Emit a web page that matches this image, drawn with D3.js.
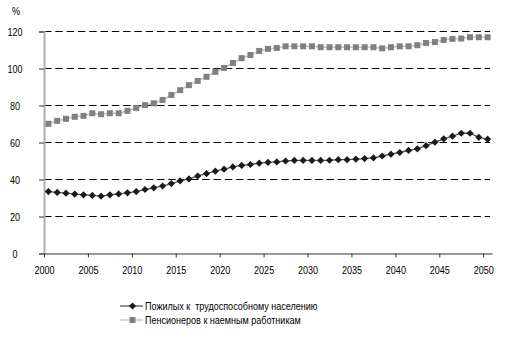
<!DOCTYPE html>
<html>
<head>
<meta charset="utf-8">
<script src="https://cdn.jsdelivr.net/npm/d3@7"></script>
<style>
  html, body { margin: 0; padding: 0; background: #fff; }
  svg { display: block; }
  text { font-family: "Liberation Sans Narrow", "Arial Narrow", "Liberation Sans", Arial, sans-serif; font-size: 11px; fill: #000; }
</style>
</head>
<body>
<div id="chart"></div>
<script>
// Years on the category axis
const years = d3.range(2000, 2051);

// Elderly population relative to working-age population, %
const elderlyToWorkingAge = [
  33.5, 33.0, 32.6, 32.1, 31.7, 31.4, 31.0, 31.7, 32.2, 32.8,
  33.5, 34.6, 35.5, 36.5, 37.8, 39.3, 40.3, 41.9, 43.2, 44.5,
  45.6, 46.8, 47.6, 48.1, 48.8, 49.3, 49.5, 50.0, 50.3, 50.3,
  50.3, 50.3, 50.4, 50.7, 50.7, 51.0, 51.3, 51.7, 52.7, 53.7,
  54.6, 55.7, 56.6, 58.3, 60.2, 62.0, 63.4, 65.0, 65.0, 62.8,
  61.8
];

// Pensioners relative to hired employees, %
const pensionersToEmployees = [
  70.1, 71.7, 72.8, 73.9, 74.4, 75.8, 75.3, 75.8, 75.8, 77.1,
  78.7, 80.2, 81.2, 83.0, 85.7, 88.3, 91.0, 93.3, 95.5, 98.2,
  100.3, 103.0, 105.6, 107.3, 109.5, 110.6, 111.1, 112.0, 112.0, 112.0,
  112.0, 111.5, 111.5, 111.5, 111.5, 111.5, 111.5, 111.5, 110.9, 111.5,
  112.0, 112.0, 112.6, 113.8, 114.3, 115.4, 116.0, 116.2, 116.9, 116.9,
  116.9
];

const yTicks = [0, 20, 40, 60, 80, 100, 120];
const xTickYears = [2000, 2005, 2010, 2015, 2020, 2025, 2030, 2035, 2040, 2045, 2050];
const seriesNames = ["Пожилых к  трудоспособному населению", "Пенсионеров к наемным работникам"];

const W = 505, H = 339;
const svg = d3.select("#chart").append("svg").attr("width", W).attr("height", H);

const x = d3.scaleBand().domain(years).range([44, 492]).padding(0);
const y = d3.scaleLinear().domain([0, 120]).range([253.5, 31.5]);
const cx = yr => x(yr) + x.bandwidth() / 2;

// Squeeze text horizontally to a narrow face when no condensed font is available
function condense(sel, k = 0.82) {
  sel.each(function () {
    const w = this.getComputedTextLength();
    if (w > 0) {
      d3.select(this).attr("textLength", (w * k).toFixed(2)).attr("lengthAdjust", "spacingAndGlyphs");
    }
  });
}

// Dashed horizontal gridlines
svg.append("g").selectAll("line")
  .data(yTicks.filter(v => v > 0))
  .join("line")
  .attr("x1", 44).attr("x2", 490)
  .attr("y1", d => y(d)).attr("y2", d => y(d))
  .attr("stroke", "#000").attr("stroke-width", 1)
  .attr("stroke-dasharray", "7.5,3.8");

// Y axis
const yAxis = svg.append("g").attr("transform", "translate(44,0)")
  .call(d3.axisLeft(y).tickValues(yTicks).tickSize(5).tickFormat(d3.format("d")));
yAxis.attr("font-family", null).attr("font-size", null);
yAxis.select(".domain").attr("stroke", "#b0b0b0").attr("stroke-width", 2);
yAxis.selectAll(".tick line").attr("stroke", "#333");
yAxis.selectAll(".tick text").attr("x", -29).attr("text-anchor", "middle").call(condense);

// Percent sign above the y axis
svg.append("text").attr("x", 16).attr("y", 15).attr("text-anchor", "middle").text("%").call(condense);

// X axis: ticks on category boundaries every five years
const xAxis = svg.append("g").attr("transform", "translate(0,253.5)")
  .call(d3.axisBottom(x).tickValues(xTickYears).tickSize(4).tickSizeOuter(0));
xAxis.attr("font-family", null).attr("font-size", null);
xAxis.select(".domain").attr("stroke", "#333");
xAxis.selectAll(".tick").attr("transform", d => `translate(${x(d) + 0.5},0)`);
xAxis.selectAll(".tick line").attr("stroke", "#333");
xAxis.selectAll(".tick text").attr("y", 17).attr("dy", "0.35em").call(condense);

// Series lines and markers
const lineGen = vals => d3.line().x((d, i) => cx(years[i])).y(d => y(d))(vals);

svg.append("path").attr("d", lineGen(pensionersToEmployees))
  .attr("fill", "none").attr("stroke", "#c4c4c4").attr("stroke-width", 1.6);
svg.append("g").selectAll("rect")
  .data(pensionersToEmployees)
  .join("rect")
  .attr("x", (d, i) => cx(years[i]) - 3).attr("y", d => y(d) - 3)
  .attr("width", 6).attr("height", 6)
  .attr("fill", "#808080");

svg.append("path").attr("d", lineGen(elderlyToWorkingAge))
  .attr("fill", "none").attr("stroke", "#555").attr("stroke-width", 1.3);
const diamond = s => `M0,${-s}L${s},0L0,${s}L${-s},0Z`;
svg.append("g").selectAll("path")
  .data(elderlyToWorkingAge)
  .join("path")
  .attr("transform", (d, i) => `translate(${cx(years[i])},${y(d)})`)
  .attr("d", diamond(3.6))
  .attr("fill", "#1a1a1a");

// Legend
const legend = svg.append("g");
const rows = [
  { name: seriesNames[0], y: 306, line: "#555", marker: "diamond" },
  { name: seriesNames[1], y: 320, line: "#c4c4c4", marker: "square" }
];
rows.forEach(r => {
  legend.append("line").attr("x1", 120).attr("x2", 143)
    .attr("y1", r.y).attr("y2", r.y)
    .attr("stroke", r.line).attr("stroke-width", 1.3);
  if (r.marker === "diamond") {
    legend.append("path").attr("transform", `translate(132.5,${r.y})`)
      .attr("d", diamond(3.6)).attr("fill", "#1a1a1a");
  } else {
    legend.append("rect").attr("x", 129.5).attr("y", r.y - 3)
      .attr("width", 6).attr("height", 6).attr("fill", "#808080");
  }
  legend.append("text").attr("x", 145).attr("y", r.y).attr("dy", "0.35em")
    .style("white-space", "pre").text(r.name).call(condense);
});
</script>
</body>
</html>
